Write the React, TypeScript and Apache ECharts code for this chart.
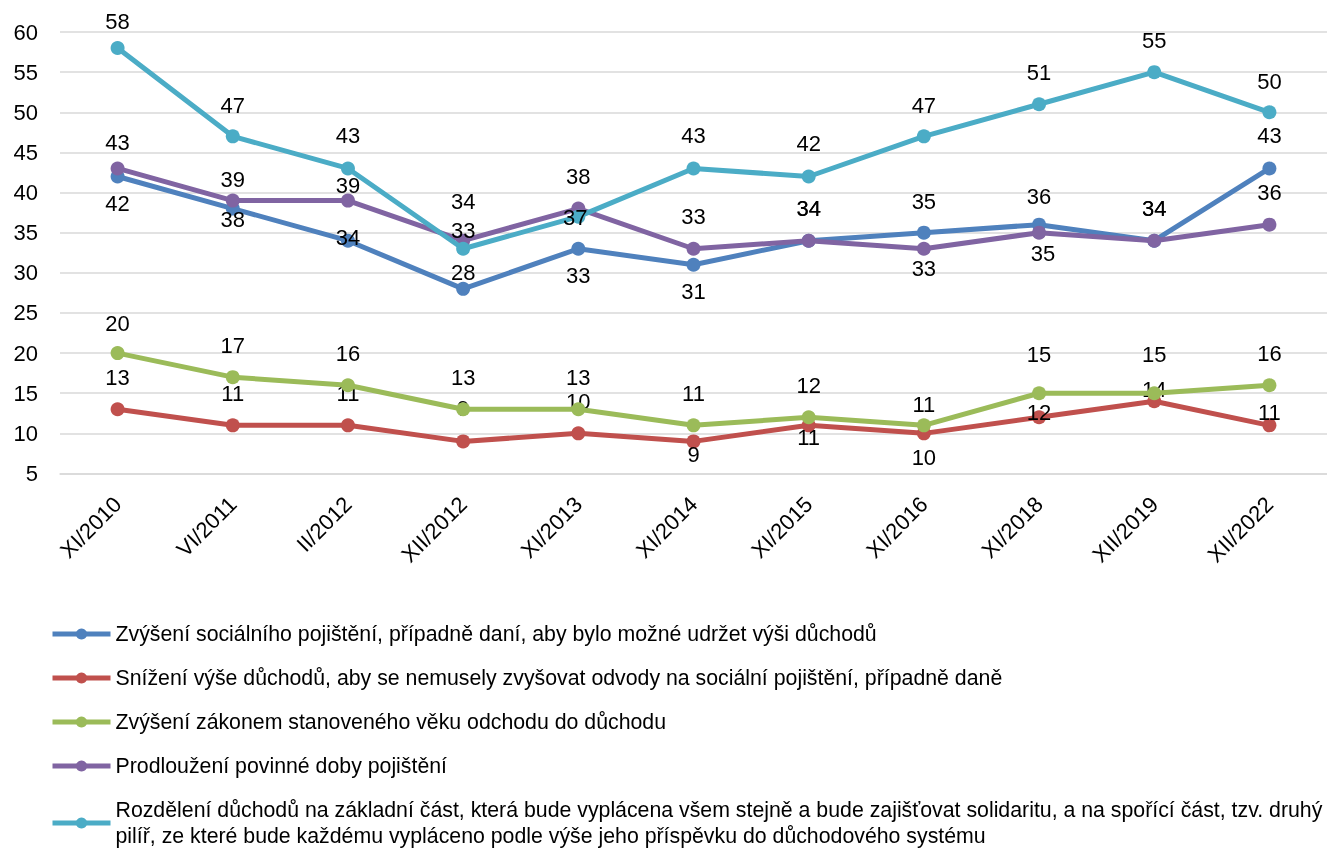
import React, { useEffect, useRef } from "react";
import * as echarts from "echarts";

const categories = ["XI/2010", "VI/2011", "II/2012", "XII/2012", "XI/2013", "XI/2014", "XI/2015", "XI/2016", "XI/2018", "XII/2019", "XII/2022"];

const seriesNames = [
  "Zvýšení sociálního pojištění, případně daní, aby bylo možné udržet výši důchodů",
  "Snížení výše důchodů, aby se nemusely zvyšovat odvody na sociální pojištění, případně daně",
  "Zvýšení zákonem stanoveného věku odchodu do důchodu",
  "Prodloužení povinné doby pojištění",
  "Rozdělení důchodů na základní část, která bude vyplácena všem stejně a bude zajišťovat solidaritu, a na spořící část, tzv. druhý pilíř, ze které bude každému vypláceno podle výše jeho příspěvku do důchodového systému",
];

const socialInsurance = [42, 38, 34, 28, 33, 31, 34, 35, 36, 34, 43];
const pensionCut = [13, 11, 11, 9, 10, 9, 11, 10, 12, 14, 11];
const retirementAge = [20, 17, 16, 13, 13, 11, 12, 11, 15, 15, 16];
const insurancePeriod = [43, 39, 39, 34, 38, 33, 34, 33, 35, 34, 36];
const pensionSplit = [58, 47, 43, 33, 37, 43, 42, 47, 51, 55, 50];

const yTicks = { min: 5, max: 60, interval: 5 };

// label offsets (layout only)
const blueDy = [27, 11, -3, -16, 27, 27, -32, -31, -28, -32, -33];
const redDy = [-32, -32, -32, -33, -32, 13, 12, 24, -5, -12, -13];
const greenDy = [-30, -32, -32, -32, -32, -32, -32, -21, -39, -39, -32];
const purpleDy = [-26, -21, -15, -39, -32, -32, -32, 20, 21, -32, -32];
const cyanDy = [-27, -31, -33, -18, 1, -33, -33, -31, -32, -32, -31];
const purpleDx = [0, 0, 0, 0, 0, 0, 0, 0, 4, 0, 0];
const cyanDx = [0, 0, 0, 0, -3, 0, 0, 0, 0, 0, 0];
const zeroDx = [0, 0, 0, 0, 0, 0, 0, 0, 0, 0, 0];

const colors = ["#4f81bd", "#c0504d", "#9bbb59", "#8064a2", "#4bacc6"];
const FONT = "'Liberation Sans', Arial, sans-serif";

export default function App() {
  const ref = useRef<HTMLDivElement>(null);
  useEffect(() => {
    if (!ref.current) return;
    const chart = echarts.init(ref.current, null, { renderer: "svg" });
    const values = [socialInsurance, pensionCut, retirementAge, insurancePeriod, pensionSplit];
    const dys = [blueDy, redDy, greenDy, purpleDy, cyanDy];
    const dxs = [zeroDx, zeroDx, zeroDx, purpleDx, cyanDx];
    const series = values.map((vals, s) => ({
      name: seriesNames[s],
      type: "line",
      data: vals.map((v, i) => ({ value: v, label: { offset: [dxs[s][i], dys[s][i]] } })),
      symbol: "circle",
      symbolSize: 14,
      lineStyle: { width: 5, color: colors[s] },
      itemStyle: { color: colors[s] },
      label: {
        show: true,
        position: "inside",
        color: "#000",
        fontSize: 22,
        fontFamily: FONT,
      },
      z: 2 + s,
    }));
    chart.setOption({
      animation: false,
      color: colors,
      grid: { left: 60, right: -9, top: 32, bottom: 381.5, containLabel: false },
      xAxis: {
        type: "category",
        data: categories,
        boundaryGap: true,
        axisLine: { show: true, lineStyle: { color: "#d9d9d9", width: 1.5 } },
        axisTick: { show: false },
        axisLabel: { rotate: 45, color: "#000", fontSize: 22, fontFamily: FONT, margin: 27, interval: 0 },
      },
      yAxis: {
        type: "value",
        min: yTicks.min,
        max: yTicks.max,
        interval: yTicks.interval,
        axisLine: { show: false },
        axisTick: { show: false },
        splitLine: { show: true, lineStyle: { color: "#d9d9d9", width: 1.5 } },
        axisLabel: { color: "#000", fontSize: 22, fontFamily: FONT, margin: 22 },
      },
      legend: {
        orient: "vertical",
        left: 50,
        top: 621,
        height: 320,
        padding: 0,
        itemWidth: 58,
        itemHeight: 14,
        itemGap: 18,
        lineStyle: { width: 5 },
        textStyle: { color: "#000", fontSize: 21.3, lineHeight: 26, fontFamily: FONT },
        formatter: (name: string) =>
          name.indexOf("druhý pilíř") >= 0 ? name.replace("druhý pilíř", "druhý\npilíř") : name,
      },
      series,
    });
    return () => chart.dispose();
  }, []);
  return <div ref={ref} style={{ position: "fixed", left: 0, top: 0, width: 1327, height: 855 }} />;
}
